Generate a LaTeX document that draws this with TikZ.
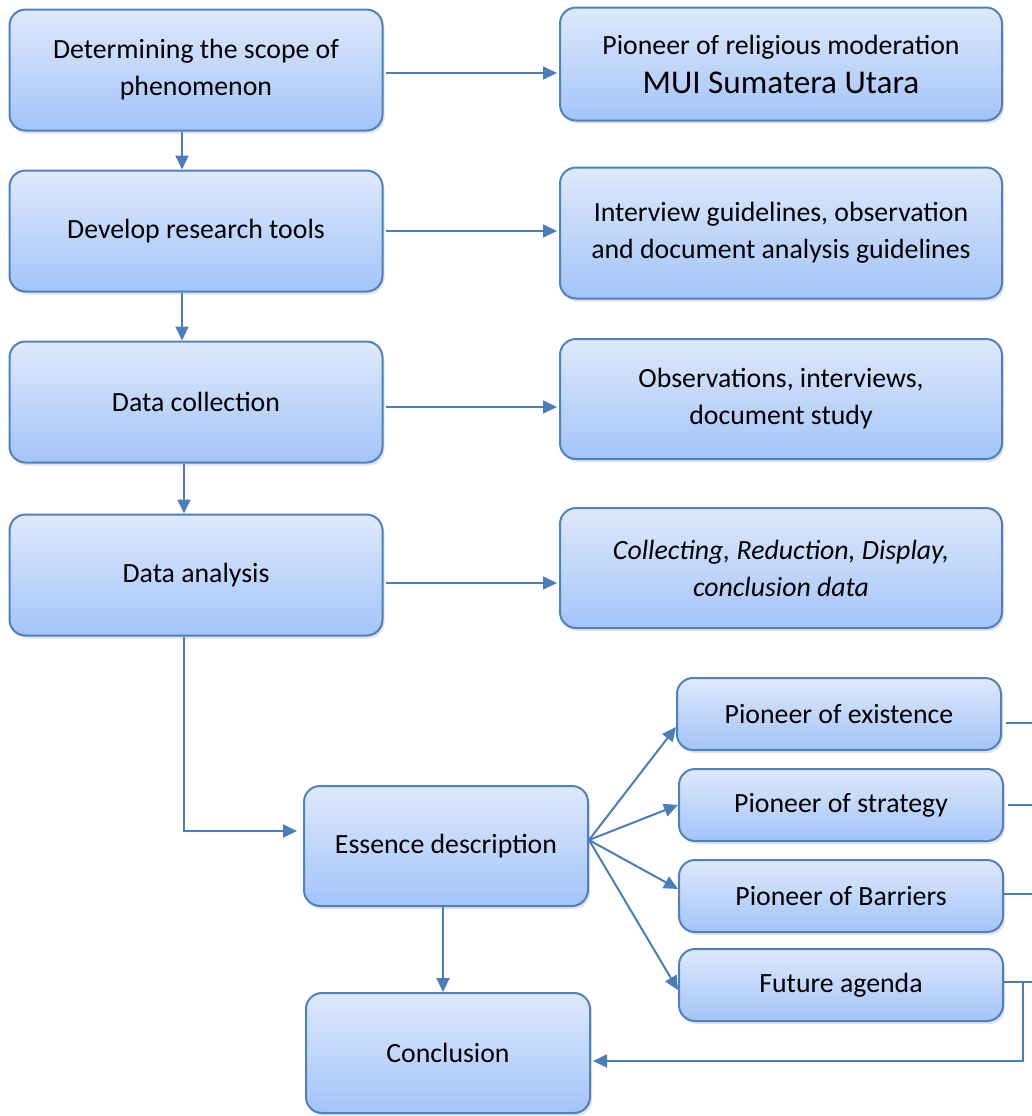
\documentclass[tikz,border=0pt]{standalone}
\usepackage{fontspec}
\setmainfont{Carlito}
\usetikzlibrary{
  arrows.meta,
  shadows
}
\definecolor{boxline}{RGB}{79,129,189}
\definecolor{boxtop}{RGB}{222,233,252}
\definecolor{boxbottom}{RGB}{163,196,249}
\definecolor{linkblue}{RGB}{74,126,187}
\tikzset{
  x=0.5pt, y=-0.5pt,
  stepbox/.style={draw=boxline, line width=1pt, rounded corners=8pt,
    top color=boxtop, bottom color=boxbottom, align=center, inner sep=0pt,
    font=\fontsize{13.9}{18.5}\selectfont,
    drop shadow={opacity=0.22, shadow xshift=1pt, shadow yshift=-1.5pt}},
  leftbox/.style={stepbox, minimum width=186.5pt, minimum height=60.5pt},
  rightbox/.style={stepbox, minimum width=221pt, minimum height=60pt},
  pioneerbox/.style={stepbox, minimum width=162pt, minimum height=36pt},
  link/.style={draw=linkblue, line width=1pt, -{Triangle[length=7pt,width=6.5pt]}},
  plain/.style={draw=linkblue, line width=0.9pt}
}

\begin{document}
\begin{tikzpicture}
  \useasboundingbox (0,0) rectangle (1032,1116);
  % left column
  \node[leftbox] (scope) at (196,70) {Determining the scope of\\phenomenon};
  \node[leftbox] (tools) at (196,231) {Develop research tools};
  \node[leftbox] (collection) at (196,402) {Data collection};
  \node[leftbox] (analysis) at (196,575) {Data analysis};
  % right column
  \node[rightbox, minimum height=56.5pt] (moderation) at (781,64)
    {Pioneer of religious moderation\\[1pt]{\fontsize{16.6}{18}\selectfont MUI Sumatera Utara}};
  \node[rightbox, minimum height=65.5pt] (guidelines) at (781,233)
    {Interview guidelines, observation\\and document analysis guidelines};
  \node[rightbox] (observations) at (781,399) {Observations, interviews,\\document study};
  \node[rightbox] (steps) at (781,568) {\textit{Collecting, Reduction, Display,}\\\textit{conclusion data}};
  % lower part
  \node[stepbox, minimum width=142pt, minimum height=60pt] (essence) at (446,846) {Essence description};
  \node[stepbox, minimum width=142pt, minimum height=60pt] (conclusion) at (448,1053) {Conclusion};
  \node[pioneerbox] (existence) at (839,714) {Pioneer of existence};
  \node[pioneerbox] (strategy) at (841,805) {Pioneer of strategy};
  \node[pioneerbox] (barriers) at (841,896) {Pioneer of Barriers};
  \node[pioneerbox] (agenda) at (841,985) {Future agenda};
  \coordinate (rim) at (1032,0);
  \coordinate (bend) at (1023,982);

  % down the left column
  \draw[link] ([xshift=-7pt]scope.south) -- ([xshift=-7pt]tools.north);
  \draw[link] ([xshift=-7pt]tools.south) -- ([xshift=-7pt]collection.north);
  \draw[link] ([xshift=-6pt]collection.south) -- ([xshift=-6pt]analysis.north);
  \draw[link, shorten >=3pt] ([xshift=-6pt]analysis.south) |- ([yshift=7.5pt]essence.west);
  % across
  \draw[link, shorten <=1pt, shorten >=1pt] ([yshift=-1.5pt]scope.east) -- ([yshift=-1.5pt]scope.east -| moderation.west);
  \draw[link, shorten <=1pt, shorten >=1pt] (tools.east) -- (tools.east -| guidelines.west);
  \draw[link, shorten <=1pt, shorten >=1pt] ([yshift=-2.5pt]collection.east) -- ([yshift=-2.5pt]collection.east -| observations.west);
  \draw[link, shorten <=1pt, shorten >=1pt] ([yshift=-4pt]analysis.east) -- ([yshift=-4pt]analysis.east -| steps.west);
  % essence fan
  \draw[link] ([yshift=3pt]essence.east) -- ([yshift=-6.5pt]existence.west);
  \draw[link] ([yshift=3pt]essence.east) -- (strategy.west);
  \draw[link] ([yshift=3pt]essence.east) -- ([yshift=3.5pt]barriers.west);
  \draw[link] ([yshift=3pt]essence.east) -- ([yshift=-2.5pt]agenda.west);
  \draw[link] ([xshift=-1.5pt]essence.south) -- ([xshift=-1.5pt]essence.south |- conclusion.north);
  % out to the right
  \draw[plain] ([yshift=-4.5pt,xshift=2pt]existence.east) -- ([yshift=-4.5pt]existence.east -| rim);
  \draw[plain] ([xshift=2pt]strategy.east) -- (strategy.east -| rim);
  \draw[plain] ([yshift=1pt]barriers.east) -- ([yshift=1pt]barriers.east -| rim);
  \draw[plain] (agenda.east |- bend) -- (bend -| rim);
  \draw[link, shorten >=1pt] (bend) |- ([yshift=-4pt]conclusion.east);
\end{tikzpicture}
\end{document}
